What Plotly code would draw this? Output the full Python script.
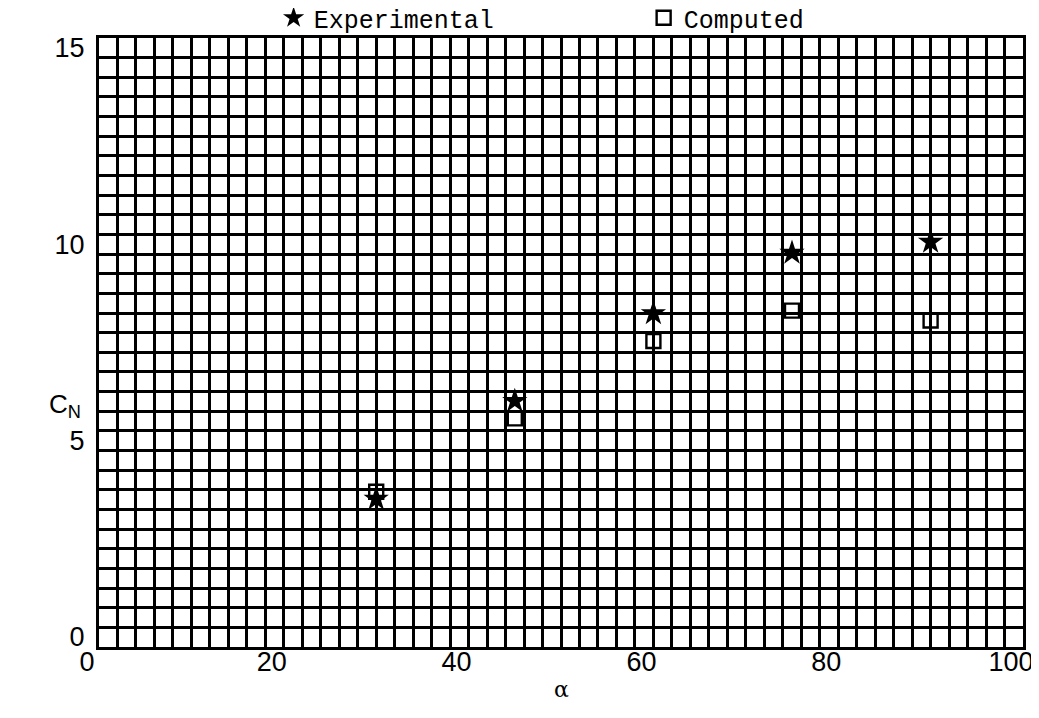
import plotly.graph_objects as go

alpha = [30, 45, 60, 75, 90]
cn_experimental = [3.77, 6.26, 8.49, 10.03, 10.31]
cn_computed = [3.95, 5.82, 7.79, 8.56, 8.31]

x_ticks = [0, 20, 40, 60, 80, 100]
y_ticks = [0, 5, 10, 15]

fig = go.Figure()
fig.add_trace(go.Scatter(
    x=alpha, y=cn_experimental, mode="markers", name="Experimental",
    marker=dict(symbol="star", size=19, color="black", line=dict(width=0)),
))
fig.add_trace(go.Scatter(
    x=alpha, y=cn_computed, mode="markers", name="Computed",
    marker=dict(symbol="square-open", size=14, color="black", line=dict(width=2.4, color="black")),
))

axis_common = dict(
    showline=True, linecolor="black", linewidth=3, mirror=True,
    showgrid=True, gridcolor="black", gridwidth=2.6,
    zeroline=False, ticks="",
    tickfont=dict(family="Liberation Sans", size=27, color="black"),
    automargin=False,
)

fig.update_xaxes(
    range=[0, 100], tickvals=x_ticks, ticktext=[str(v) for v in x_ticks],
    minor=dict(dtick=2, tick0=0, showgrid=True, gridcolor="black", gridwidth=2.6),
    ticklabelstandoff=-11, ticklabelshift=-12, ticklabeloverflow="allow",
    **axis_common,
)
fig.update_yaxes(
    range=[0, 15.5], tickvals=y_ticks, ticktext=[str(v) for v in y_ticks],
    minor=dict(dtick=0.5, tick0=0, showgrid=True, gridcolor="black", gridwidth=2.6),
    ticklabelstandoff=6, ticklabelshift=-10, ticklabeloverflow="allow",
    **axis_common,
)

fig.add_annotation(
    text="C<sub>N</sub>", xref="paper", yref="paper", x=-0.037, y=0.397,
    xanchor="center", yanchor="middle",
    showarrow=False, font=dict(family="Liberation Sans", size=26, color="black"),
)
fig.add_annotation(
    text="α", xref="paper", yref="paper", x=0.5, y=-0.0706,
    xanchor="center", yanchor="middle",
    showarrow=False, font=dict(family="DejaVu Serif", size=22, color="black"),
)

fig.update_layout(
    width=1031, height=710,
    margin=dict(l=91, r=16, t=30, b=71, autoexpand=False),
    paper_bgcolor="white", plot_bgcolor="white",
    showlegend=True,
    legend=dict(
        orientation="h", xref="paper", yref="paper",
        x=0.189, y=1.0706, xanchor="left", yanchor="top",
        entrywidth=325, entrywidthmode="pixels",
        font=dict(family="Liberation Mono", size=25, color="black"),
        bgcolor="rgba(0,0,0,0)",
    ),
)

fig.write_html("out.html")
